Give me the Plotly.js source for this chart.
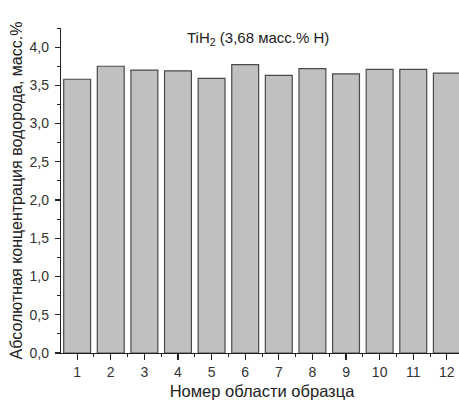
<!DOCTYPE html>
<html>
<head>
<meta charset="utf-8">
<script src="https://cdn.plot.ly/plotly-3.0.1.min.js"></script>
<style>
html,body{margin:0;padding:0;overflow:hidden;background:#fff;width:459px;height:401px;}
#chart{width:470px;height:401px;}
</style>
</head>
<body>
<div id="chart"></div>
<script>
const regions = [1,2,3,4,5,6,7,8,9,10,11,12];
const concentration = [3.58,3.75,3.70,3.69,3.59,3.77,3.63,3.72,3.65,3.71,3.71,3.66];
const tickLabels = ['1','2','3','4','5','6','7','8','9','10','11','12'];
const chartTitle = 'TiH<sub>2</sub> (3,68 масс.% H)';
const xTitle = 'Номер области образца';
const yTitle = 'Абсолютная концентрация водорода, масс.%';

const font = 'Liberation Sans, Arial, sans-serif';

Plotly.newPlot('chart', [{
  type: 'bar',
  x: regions,
  y: concentration,
  width: 0.8,
  marker: {color: '#c0c0c0', line: {color: '#4a4a4a', width: 1.2}},
  hoverinfo: 'none'
}], {
  width: 470, height: 401,
  margin: {l: 61, r: 7, t: 28, b: 48},
  paper_bgcolor: '#fff', plot_bgcolor: '#fff',
  separators: ', ',
  showlegend: false,
  font: {family: font, color: '#222', size: 13},
  xaxis: {
    range: [0.52, 12.48],
    tickvals: regions, ticktext: tickLabels,
    ticks: 'outside', ticklen: 6, tickwidth: 1.2, tickcolor: '#222',
    minor: {tickvals: [0.5,1.5,2.5,3.5,4.5,5.5,6.5,7.5,8.5,9.5,10.5,11.5,12.5], ticks: 'outside', ticklen: 3, tickcolor: '#222', tickwidth: 1},
    showline: true, linecolor: '#222', linewidth: 1.2,
    showgrid: false, zeroline: false,
    tickfont: {size: 14, color: '#333'},
    title: {text: xTitle, font: {size: 16.5, color: '#222'}, standoff: 6}
  },
  yaxis: {
    range: [0, 4.25],
    tick0: 0, dtick: 0.5, tickformat: '.1f',
    ticks: 'outside', ticklen: 5, tickwidth: 1.2, tickcolor: '#222',
    ticklabelstandoff: 3,
    minor: {dtick: 0.25, tick0: 0, ticks: 'outside', ticklen: 3, tickcolor: '#222', tickwidth: 1},
    showline: true, linecolor: '#222', linewidth: 1.2,
    showgrid: false, zeroline: false,
    tickfont: {size: 14, color: '#333'},
    title: {text: yTitle, font: {size: 16, color: '#222'}, standoff: 3}
  },
  annotations: [{
    text: chartTitle, xref: 'paper', yref: 'paper',
    x: 0.49, y: 0.968, xanchor: 'center', yanchor: 'middle',
    showarrow: false, font: {size: 15, color: '#222'}
  }]
}, {staticPlot: true});
</script>
</body>
</html>
